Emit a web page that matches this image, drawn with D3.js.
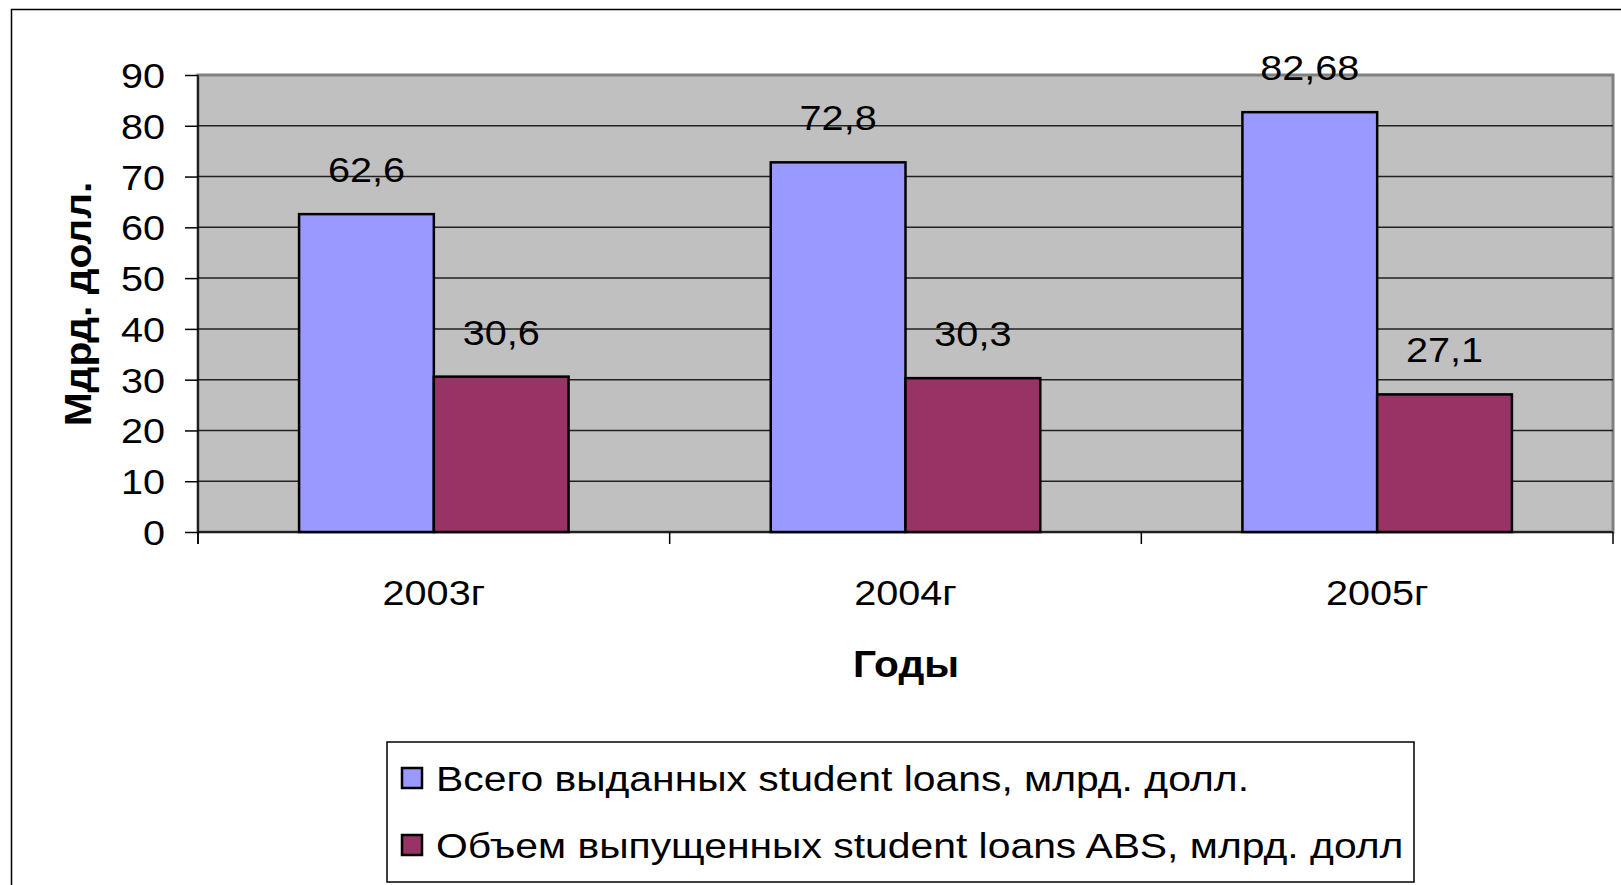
<!DOCTYPE html>
<html>
<head>
<meta charset="utf-8">
<script src="https://cdn.jsdelivr.net/npm/d3@7"></script>
<style>
  body { margin: 0; background: #fff; }
  svg { display: block; font-family: "Liberation Sans", Arial, sans-serif; }
</style>
</head>
<body>
<div id="chart"></div>
<script>
(function(){
    // data
    const years = ['2003г', '2004г', '2005г'];
    const seriesNames = [
        'Всего выданных student loans, млрд. долл.',
        'Объем выпущенных student loans ABS, млрд. долл'
    ];
    const totalLoans = [62.6, 72.8, 82.68];
    const absVolume = [30.6, 30.3, 27.1];
    const labelsTotal = ['62,6', '72,8', '82,68'];
    const labelsAbs = ['30,6', '30,3', '27,1'];
    const yTicks = [0, 10, 20, 30, 40, 50, 60, 70, 80, 90];
    const colors = ['#9999ff', '#993366'];

    const width = 1621, height = 885;
    const plot = { left: 198, top: 75, right: 1613, bottom: 532 };

    const svg = d3.select('#chart')
        .append('svg')
        .attr('width', width)
        .attr('height', height);

    // text in the original is a bit wider than Liberation Sans, stretch it
    function label(parent, x, y, txt, opts) {
        opts = opts || {};
        const g = parent.append('g')
            .attr('transform', `translate(${x},${y}) ${opts.rotate ? 'rotate(' + opts.rotate + ')' : ''} scale(${opts.sx || 1.1},1)`);
        return g.append('text')
            .attr('text-anchor', opts.anchor || 'middle')
            .attr('font-size', (opts.size || 36) + 'px')
            .attr('font-weight', opts.bold ? 'bold' : 'normal')
            .attr('dy', opts.dy || 0)
            .attr('fill', '#000')
            .text(txt);
    }

    // outer chart frame
    svg.append('rect')
        .attr('x', 11.5).attr('y', 9.5)
        .attr('width', 1640).attr('height', 900)
        .attr('fill', '#fff')
        .attr('stroke', '#000')
        .attr('stroke-width', 1.5);

    const x = d3.scaleBand()
        .domain(years)
        .range([plot.left, plot.right]);

    const y = d3.scaleLinear()
        .domain([0, 90])
        .range([plot.bottom, plot.top]);

    // plot area
    svg.append('rect')
        .attr('x', plot.left).attr('y', plot.top)
        .attr('width', plot.right - plot.left)
        .attr('height', plot.bottom - plot.top)
        .attr('fill', '#c0c0c0')
        .attr('stroke', '#808080')
        .attr('stroke-width', 3);

    // gridlines
    svg.append('g')
        .selectAll('line')
        .data(yTicks.filter(d => d > 0 && d < 90))
        .enter()
        .append('line')
        .attr('x1', plot.left).attr('x2', plot.right)
        .attr('y1', d => y(d)).attr('y2', d => y(d))
        .attr('stroke', '#222')
        .attr('stroke-width', 1.5);

    // bars - gap width 150% like Excel
    const bandW = x.bandwidth();
    const barW = bandW / 3.5;
    const series = [totalLoans, absVolume];
    const labels = [labelsTotal, labelsAbs];

    series.forEach((vals, si) => {
        svg.append('g')
            .selectAll('rect')
            .data(years)
            .enter()
            .append('rect')
            .attr('x', d => x(d) + bandW / 2 - barW + si * barW)
            .attr('y', (d, i) => y(vals[i]))
            .attr('width', barW)
            .attr('height', (d, i) => y(0) - y(vals[i]))
            .attr('fill', colors[si])
            .attr('stroke', '#000')
            .attr('stroke-width', 2.5);

        const gl = svg.append('g');
        years.forEach((d, i) => {
            label(gl, x(d) + bandW / 2 - barW / 2 + si * barW, y(vals[i]) - 32, labels[si][i]);
        });
    });

    // y axis
    const yAxis = d3.axisLeft(y)
        .tickValues(yTicks)
        .tickSize(13)
        .tickFormat('');
    const gy = svg.append('g')
        .attr('transform', `translate(${plot.left},0)`)
        .call(yAxis);
    gy.select('.domain').remove();
    gy.selectAll('line').attr('stroke', '#000').attr('stroke-width', 1.5);
    const gyl = svg.append('g');
    yTicks.forEach(t => {
        label(gyl, 165, y(t), t, { anchor: 'end', dy: '0.36em' });
    });
    svg.append('line')
        .attr('x1', plot.left).attr('x2', plot.left)
        .attr('y1', plot.top).attr('y2', plot.bottom + 12)
        .attr('stroke', '#000').attr('stroke-width', 1.5);

    // x axis
    svg.append('line')
        .attr('x1', plot.left).attr('x2', plot.right)
        .attr('y1', plot.bottom).attr('y2', plot.bottom)
        .attr('stroke', '#000').attr('stroke-width', 1.5);
    svg.append('g')
        .selectAll('line')
        .data(years.map(d => x(d)).concat([plot.right]))
        .enter()
        .append('line')
        .attr('x1', d => d).attr('x2', d => d)
        .attr('y1', plot.bottom).attr('y2', plot.bottom + 12)
        .attr('stroke', '#000').attr('stroke-width', 1.5);
    const gxl = svg.append('g');
    years.forEach(d => label(gxl, x(d) + bandW / 2, 605, d));

    // axis titles
    label(svg, 91, 304, 'Мдрд. долл.', { rotate: -90, bold: true, size: 37 });
    label(svg, 906, 677, 'Годы', { bold: true, size: 37 });

    // legend
    const legend = svg.append('g');
    legend.append('rect')
        .attr('x', 387).attr('y', 742)
        .attr('width', 1027).attr('height', 140)
        .attr('fill', '#fff')
        .attr('stroke', '#000')
        .attr('stroke-width', 1.5);
    seriesNames.forEach((name, i) => {
        legend.append('rect')
            .attr('x', 402).attr('y', 768 + i * 67)
            .attr('width', 20).attr('height', 20)
            .attr('fill', colors[i])
            .attr('stroke', '#000')
            .attr('stroke-width', 2.5);
        label(legend, 436, 791 + i * 67, name, { anchor: 'start', sx: 1.135 });
    });
})();
</script>
</body>
</html>
